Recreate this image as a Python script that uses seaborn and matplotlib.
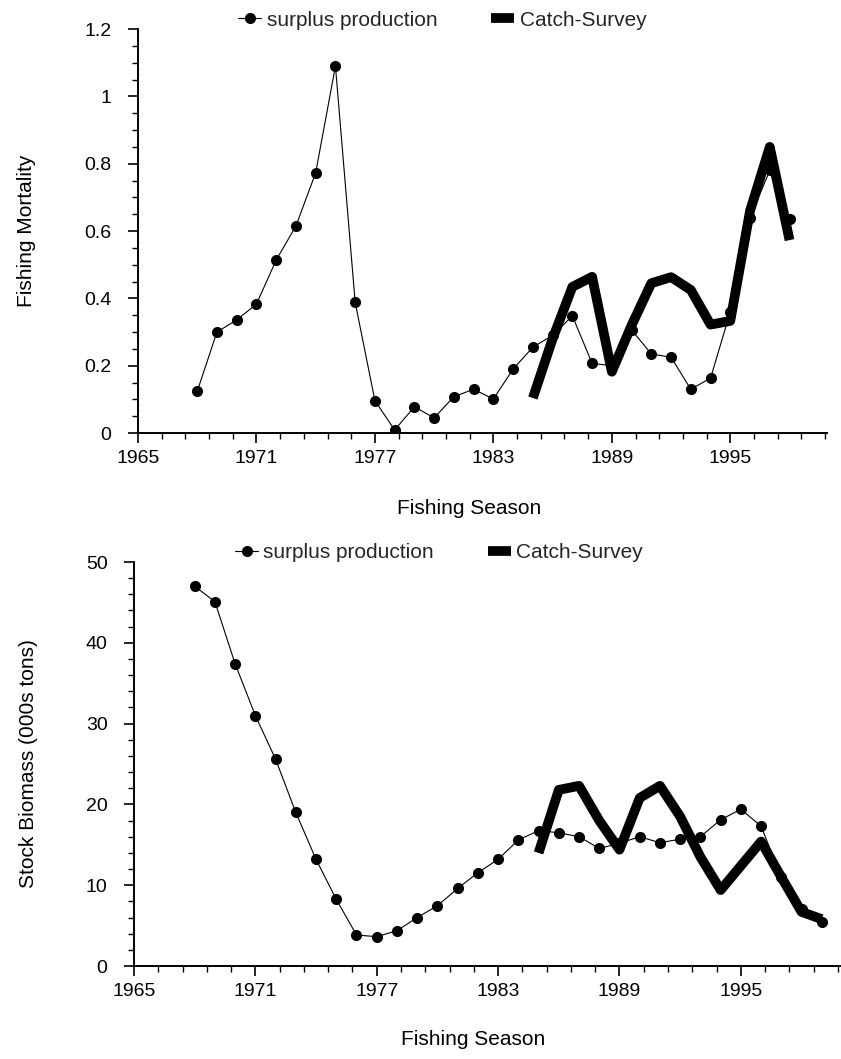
import numpy as np
import pandas as pd
import matplotlib
matplotlib.use("Agg")
import matplotlib.pyplot as plt
import seaborn as sns
from matplotlib.ticker import FixedLocator, MultipleLocator, FuncFormatter

sns.set_style("ticks")
plt.rcParams['font.family'] = ['Liberation Sans', 'DejaVu Sans']

# Fishing mortality estimates
sp_F_years = list(range(1968, 1999))
sp_F = [0.124, 0.30, 0.336, 0.383, 0.514, 0.615, 0.773, 1.09, 0.388, 0.096,
        0.009, 0.078, 0.045, 0.108, 0.130, 0.101, 0.190, 0.255, 0.29, 0.348,
        0.207, 0.20, 0.306, 0.235, 0.225, 0.130, 0.163, 0.36, 0.64, 0.78, 0.635]
cs_F_years = list(range(1985, 1999))
cs_F = [0.104, 0.28, 0.434, 0.464, 0.182, 0.32, 0.445, 0.463, 0.425, 0.322,
        0.333, 0.66, 0.85, 0.573]

# Stock biomass estimates (000s tons)
sp_B_years = list(range(1968, 2000))
sp_B = [47.0, 45.1, 37.4, 31.0, 25.6, 19.0, 13.2, 8.25, 3.84, 3.63,
        4.37, 6.0, 7.46, 9.6, 11.55, 13.2, 15.6, 16.75, 16.5, 16.0,
        14.55, 15.2, 16.0, 15.26, 15.7, 16.0, 18.1, 19.4, 17.3, 11.0, 7.0, 5.4]
cs_B_years = list(range(1985, 2000))
cs_B = [14.0, 21.8, 22.3, 18.0, 14.4, 20.8, 22.3, 18.5, 13.5, 9.4,
        12.4, 15.4, 11.0, 6.7, 5.8]

series_labels = ["surplus production", "Catch-Survey"]
season_ticks = list(range(1965, 2000, 6))

fig = plt.figure(figsize=(8.41, 10.59), dpi=100)
ax1 = fig.add_axes([0.1641, 0.5911, 0.8193, 0.3815])
ax2 = fig.add_axes([0.1593, 0.0878, 0.8395, 0.3815])


def draw_panel(ax, sp_x, sp_y, cs_x, cs_y):
    sns.lineplot(x=sp_x, y=sp_y, ax=ax, color="black", linewidth=0.8,
                 marker="o", markersize=8, markeredgewidth=0,
                 label=series_labels[0], zorder=2)
    sns.lineplot(x=cs_x, y=cs_y, ax=ax, color="black", linewidth=7,
                 solid_joinstyle="round", solid_capstyle="butt",
                 label=series_labels[1], zorder=3)


draw_panel(ax1, sp_F_years, sp_F, cs_F_years, cs_F)
draw_panel(ax2, sp_B_years, sp_B, cs_B_years, cs_B)

fmt = FuncFormatter(lambda v, p: f"{v:g}")

for ax, ymax, ymajor, yminor, legend_xy in [
        (ax1, 1.2, 0.2, 0.05, (0.526, 0.981)),
        (ax2, 50, 10, 2, (0.522, 0.478))]:
    ax.set_xlim(1965, 1999.9)
    ax.set_ylim(0, ymax)
    ax.xaxis.set_major_locator(FixedLocator(season_ticks))
    ax.xaxis.set_minor_locator(FixedLocator(np.arange(1965, 2000.0, 1.2)))
    ax.yaxis.set_major_locator(MultipleLocator(ymajor))
    ax.yaxis.set_minor_locator(MultipleLocator(yminor))
    ax.yaxis.set_major_formatter(fmt)
    for s in ["top", "right"]:
        ax.spines[s].set_visible(False)
    for s in ["left", "bottom"]:
        ax.spines[s].set_color("black")
        ax.spines[s].set_linewidth(1.4)
    ax.tick_params(axis="both", which="major", length=7, width=1.2,
                   color="black", labelsize=14, labelcolor="black")
    ax.tick_params(axis="both", which="minor", length=4, width=1.0,
                   color="black")
    ax.tick_params(axis="y", which="major", pad=12)
    ax.tick_params(axis="x", which="major", pad=5)
    ax.set_xlabel("Fishing Season", fontsize=15, color="black")

    handles, labels = ax.get_legend_handles_labels()
    ax.get_legend().remove()
    ax.legend(handles, labels, loc="center", bbox_to_anchor=legend_xy,
              bbox_transform=fig.transFigure, ncol=2, frameon=False,
              fontsize=15, handlelength=1.1, handletextpad=0.25,
              columnspacing=2.6, borderpad=0, borderaxespad=0)

ax1.set_ylabel("Fishing Mortality", fontsize=15, color="black")
ax2.set_ylabel("Stock Biomass (000s tons)", fontsize=15, color="black")
ax1.yaxis.set_label_coords(-0.148, 0.5)
ax2.yaxis.set_label_coords(-0.136, 0.5)
ax1.xaxis.set_label_coords(0.48, -0.163)
ax2.xaxis.set_label_coords(0.48, -0.158)

fig.savefig("out.png", dpi=100)
